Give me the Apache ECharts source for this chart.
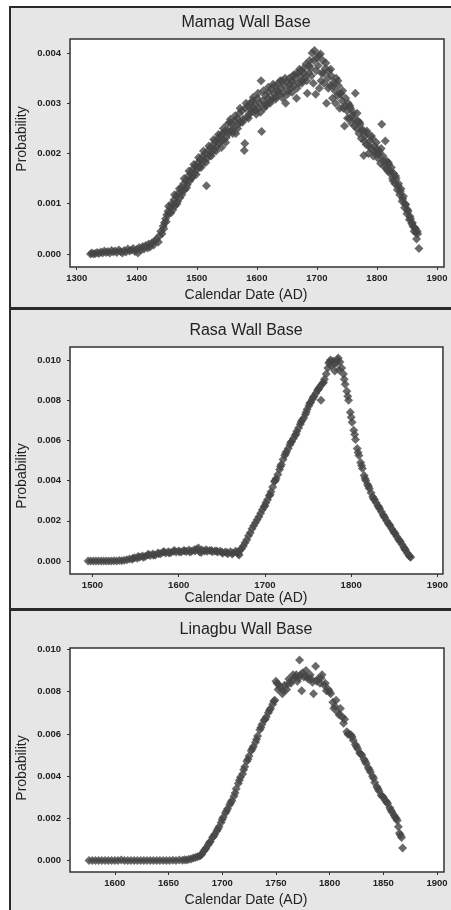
<!DOCTYPE html>
<html><head><meta charset="utf-8">
<script src="https://cdn.jsdelivr.net/npm/echarts@6/dist/echarts.min.js"></script>
<style>html,body{margin:0;padding:0;background:#fff}#c{width:451px;height:910px}</style>
</head><body><div id="c"></div>
<script>
const titles = ["Mamag Wall Base", "Rasa Wall Base", "Linagbu Wall Base"];
const xName = "Calendar Date (AD)";
const yName = "Probability";

const mamagXTicks = [1300, 1400, 1500, 1600, 1700, 1800, 1900];
const mamagYTicks = [0, 0.001, 0.002, 0.003, 0.004];
const rasaXTicks = [1500, 1600, 1700, 1800, 1900];
const rasaYTicks = [0, 0.002, 0.004, 0.006, 0.008, 0.010];
const linagbuXTicks = [1600, 1650, 1700, 1750, 1800, 1850, 1900];
const linagbuYTicks = [0, 0.002, 0.004, 0.006, 0.008, 0.010];

const mamagData = [
[1323,0.00000],[1325,0.00002],[1328,0.00000],[1331,0.00001],[1334,0.00003],[1337,0.00001],[1340,0.00004],[1343,0.00002],[1346,0.00006],[1349,0.00003],
[1352,0.00005],[1355,0.00002],[1358,0.00007],[1361,0.00004],[1364,0.00006],[1367,0.00003],[1370,0.00008],[1373,0.00005],[1376,0.00002],[1379,0.00007],
[1382,0.00004],[1385,0.00010],[1388,0.00006],[1391,0.00008],[1394,0.00011],[1397,0.00005],[1400,0.00009],[1402,0.00002],[1404,0.00013],[1407,0.00008],
[1410,0.00015],[1412,0.00010],[1415,0.00017],[1418,0.00012],[1420,0.00020],[1422,0.00014],[1425,0.00022],[1428,0.00018],[1430,0.00026],[1433,0.00030],
[1436,0.00024],[1438,0.00036],[1440,0.00045],[1442,0.00040],[1444,0.00055],[1446,0.00062],[1448,0.00070],[1450,0.00078],[1452,0.00085],[1454,0.00080],
[1456,0.00092],[1458,0.00100],[1460,0.00088],[1462,0.00108],[1464,0.00096],[1466,0.00115],[1468,0.00105],[1470,0.00122],[1472,0.00112],[1474,0.00132],
[1476,0.00125],[1478,0.00140],[1480,0.00128],[1482,0.00146],[1484,0.00138],[1486,0.00155],[1488,0.00145],[1490,0.00162],[1492,0.00152],[1494,0.00170],
[1496,0.00160],[1498,0.00176],[1500,0.00168],[1502,0.00182],[1504,0.00172],[1506,0.00188],[1508,0.00178],[1510,0.00195],[1512,0.00186],[1514,0.00200],
[1516,0.00136],[1517,0.00190],[1519,0.00206],[1521,0.00196],[1523,0.00212],[1525,0.00202],[1527,0.00218],[1529,0.00208],[1531,0.00225],[1533,0.00214],
[1535,0.00230],[1537,0.00220],[1539,0.00236],[1541,0.00212],[1543,0.00240],[1545,0.00228],[1547,0.00245],[1549,0.00232],[1551,0.00258],[1553,0.00240],
[1555,0.00262],[1557,0.00246],[1559,0.00258],[1561,0.00250],[1563,0.00265],[1565,0.00240],[1567,0.00270],[1569,0.00258],[1571,0.00280],[1573,0.00262],
[1575,0.00285],[1577,0.00268],[1579,0.00206],[1580,0.00220],[1581,0.00290],[1583,0.00272],[1585,0.00295],[1587,0.00278],[1589,0.00300],[1591,0.00282],
[1593,0.00305],[1595,0.00290],[1597,0.00298],[1599,0.00278],[1601,0.00310],[1603,0.00290],[1605,0.00300],[1607,0.00345],[1608,0.00244],[1610,0.00305],
[1612,0.00290],[1614,0.00316],[1616,0.00298],[1618,0.00310],[1620,0.00322],[1622,0.00300],[1624,0.00330],[1626,0.00310],[1628,0.00320],[1630,0.00335],
[1632,0.00312],[1634,0.00326],[1636,0.00340],[1638,0.00318],[1640,0.00330],[1642,0.00345],[1644,0.00320],[1646,0.00335],[1648,0.00300],[1650,0.00342],
[1652,0.00325],[1654,0.00350],[1656,0.00330],[1658,0.00345],[1660,0.00355],[1662,0.00335],[1664,0.00348],[1666,0.00310],[1668,0.00360],[1670,0.00340],
[1672,0.00355],[1674,0.00365],[1676,0.00345],[1678,0.00370],[1680,0.00350],[1682,0.00378],[1684,0.00320],[1686,0.00360],[1688,0.00385],[1690,0.00370],
[1692,0.00400],[1694,0.00340],[1696,0.00405],[1698,0.00318],[1700,0.00390],[1702,0.00375],[1704,0.00330],[1706,0.00398],[1708,0.00360],[1710,0.00385],
[1712,0.00340],[1714,0.00370],[1716,0.00300],[1718,0.00350],[1720,0.00365],[1722,0.00335],[1724,0.00355],[1726,0.00310],[1728,0.00342],[1730,0.00325],
[1732,0.00350],[1734,0.00315],[1736,0.00335],[1738,0.00290],[1740,0.00320],[1742,0.00305],[1744,0.00290],[1746,0.00255],[1748,0.00310],[1750,0.00285],
[1752,0.00300],[1754,0.00270],[1756,0.00290],[1758,0.00260],[1760,0.00282],[1762,0.00268],[1764,0.00320],[1766,0.00250],[1768,0.00265],[1770,0.00240],
[1772,0.00258],[1774,0.00230],[1776,0.00248],[1778,0.00196],[1780,0.00235],[1782,0.00218],[1784,0.00240],[1786,0.00200],[1788,0.00225],[1790,0.00210],
[1792,0.00230],[1794,0.00195],[1796,0.00215],[1798,0.00200],[1800,0.00208],[1802,0.00190],[1804,0.00205],[1806,0.00180],[1808,0.00258],[1810,0.00195],
[1812,0.00175],[1814,0.00225],[1816,0.00185],[1818,0.00165],[1820,0.00178],[1822,0.00160],[1824,0.00172],[1826,0.00150],[1828,0.00160],[1830,0.00140],
[1832,0.00150],[1834,0.00128],[1836,0.00140],[1838,0.00118],[1840,0.00130],[1842,0.00105],[1844,0.00115],[1846,0.00092],[1848,0.00098],[1850,0.00080],
[1852,0.00085],[1854,0.00068],[1856,0.00070],[1858,0.00060],[1860,0.00055],[1862,0.00045],[1864,0.00050],[1866,0.00030],[1868,0.00040],[1870,0.00011]
];
const mamagExtra = [
[1445,0.00050],[1449,0.00064],[1453,0.00095],[1457,0.00082],[1461,0.00098],[1463,0.00118],[1467,0.00100],[1471,0.00130],[1475,0.00118],[1479,0.00150],
[1483,0.00132],[1487,0.00165],[1491,0.00150],[1495,0.00178],[1499,0.00158],[1503,0.00192],[1507,0.00172],[1511,0.00205],[1515,0.00182],[1520,0.00215],
[1524,0.00195],[1528,0.00228],[1532,0.00205],[1536,0.00238],[1540,0.00225],[1544,0.00250],[1548,0.00222],[1552,0.00245],[1556,0.00268],[1560,0.00240],
[1564,0.00275],[1568,0.00250],[1572,0.00290],[1576,0.00262],[1582,0.00300],[1586,0.00270],[1590,0.00288],[1594,0.00312],[1598,0.00285],[1602,0.00320],
[1606,0.00282],[1611,0.00325],[1615,0.00295],[1619,0.00332],[1623,0.00305],[1627,0.00338],[1631,0.00308],[1635,0.00322],[1639,0.00345],[1643,0.00310],
[1647,0.00350],[1651,0.00318],[1655,0.00338],[1659,0.00322],[1663,0.00358],[1667,0.00330],[1671,0.00368],[1675,0.00340],[1679,0.00360],[1683,0.00345],
[1687,0.00375],[1691,0.00355],[1695,0.00385],[1699,0.00365],[1703,0.00395],[1707,0.00345],[1711,0.00360],[1715,0.00380],[1719,0.00330],[1723,0.00368],
[1727,0.00335],[1731,0.00300],[1735,0.00345],[1739,0.00318],[1743,0.00325],[1747,0.00295],[1751,0.00270],[1755,0.00295],[1759,0.00275],[1763,0.00255],
[1767,0.00280],[1771,0.00262],[1775,0.00245],[1779,0.00225],[1783,0.00245],[1787,0.00215],[1791,0.00235],[1795,0.00205],[1799,0.00222],[1803,0.00198],
[1807,0.00210],[1811,0.00185],[1815,0.00170],[1819,0.00182],[1823,0.00165],[1827,0.00145],[1831,0.00155],[1835,0.00135],[1839,0.00125],[1843,0.00110],
[1847,0.00100],[1851,0.00088],[1855,0.00075],[1859,0.00062],[1863,0.00052],[1865,0.00042],[1867,0.00045]
];

const rasaData = [
[1495,0.00000],[1498,0.00000],[1501,0.00000],[1504,0.00000],[1507,0.00000],[1510,0.00000],[1513,0.00000],[1516,0.00000],[1519,0.00000],[1522,0.00000],
[1525,0.00001],[1528,0.00000],[1531,0.00002],[1534,0.00001],[1537,0.00003],[1540,0.00006],[1543,0.00010],[1546,0.00008],[1549,0.00016],[1552,0.00013],
[1555,0.00020],[1558,0.00024],[1561,0.00022],[1564,0.00030],[1567,0.00027],[1570,0.00034],[1573,0.00030],[1576,0.00040],[1579,0.00036],[1582,0.00044],
[1585,0.00040],[1588,0.00046],[1591,0.00042],[1594,0.00048],[1597,0.00044],[1600,0.00050],[1603,0.00045],[1606,0.00052],[1609,0.00047],[1612,0.00054],
[1615,0.00048],[1618,0.00056],[1621,0.00060],[1624,0.00046],[1627,0.00054],[1630,0.00050],[1633,0.00048],[1636,0.00052],[1639,0.00046],[1642,0.00050],
[1645,0.00044],[1648,0.00048],[1651,0.00038],[1654,0.00044],[1657,0.00036],[1660,0.00046],[1663,0.00040],[1666,0.00048],[1669,0.00036],[1671,0.00052],
[1673,0.00062],[1675,0.00075],[1677,0.00090],[1679,0.00105],[1681,0.00125],[1683,0.00140],[1685,0.00160],[1687,0.00175],[1689,0.00190],[1691,0.00205],
[1693,0.00220],[1695,0.00238],[1697,0.00255],[1699,0.00270],[1701,0.00290],[1703,0.00305],[1705,0.00325],[1707,0.00345],[1709,0.00368],[1711,0.00395],
[1713,0.00410],[1715,0.00430],[1717,0.00455],[1719,0.00480],[1721,0.00505],[1723,0.00525],[1725,0.00545],[1727,0.00560],[1729,0.00578],[1731,0.00595],
[1733,0.00610],[1735,0.00625],[1737,0.00645],[1739,0.00662],[1741,0.00680],[1743,0.00700],[1745,0.00712],[1747,0.00730],[1749,0.00755],[1751,0.00772],
[1753,0.00790],[1755,0.00805],[1757,0.00820],[1759,0.00835],[1761,0.00850],[1763,0.00862],[1765,0.00875],[1767,0.00885],[1769,0.00905],[1771,0.00930],
[1773,0.00960],[1775,0.00990],[1777,0.00970],[1779,0.00995],[1781,0.00945],[1783,0.00985],[1785,0.01010],[1787,0.00990],[1789,0.00960],[1791,0.00930],
[1793,0.00880],[1795,0.00845],[1797,0.00800],[1799,0.00740],[1801,0.00690],[1803,0.00650],[1805,0.00605],[1807,0.00560],[1809,0.00525],[1811,0.00490],
[1813,0.00460],[1815,0.00425],[1817,0.00400],[1819,0.00380],[1821,0.00360],[1823,0.00340],[1825,0.00320],[1827,0.00305],[1829,0.00290],[1831,0.00275],
[1833,0.00260],[1835,0.00245],[1837,0.00230],[1839,0.00215],[1841,0.00200],[1843,0.00188],[1845,0.00175],[1847,0.00160],[1849,0.00148],[1851,0.00135],
[1853,0.00120],[1855,0.00108],[1857,0.00095],[1859,0.00082],[1861,0.00068],[1863,0.00055],[1865,0.00040],[1867,0.00028],[1869,0.00018]
];
const rasaExtra = [
[1547,0.00014],[1553,0.00022],[1559,0.00018],[1565,0.00033],[1571,0.00028],[1577,0.00036],[1583,0.00046],[1589,0.00040],[1595,0.00052],[1601,0.00046],
[1607,0.00050],[1613,0.00045],[1619,0.00050],[1623,0.00064],[1626,0.00042],[1632,0.00056],[1638,0.00052],[1644,0.00049],[1650,0.00045],[1656,0.00042],
[1662,0.00034],[1668,0.00045],[1670,0.00030],[1700,0.00275],[1706,0.00330],[1712,0.00400],[1718,0.00470],[1724,0.00535],[1730,0.00590],[1736,0.00632],
[1742,0.00692],[1748,0.00742],[1752,0.00785],[1756,0.00815],[1762,0.00855],[1765,0.00800],[1768,0.00890],[1774,0.00985],[1776,0.01000],[1780,0.00980],
[1784,0.01000],[1786,0.00950],[1792,0.00905],[1796,0.00820],[1800,0.00715],[1804,0.00630],[1808,0.00540],[1812,0.00475],[1816,0.00410],[1820,0.00372],
[1826,0.00310],[1832,0.00268],[1838,0.00222],[1844,0.00182],[1850,0.00140],[1856,0.00100],[1862,0.00060],[1868,0.00022]
];

const linagbuData = [
[1576,0],[1579,0],[1582,0],[1585,0],[1588,0],[1591,0],[1594,0],[1597,0],[1600,0],[1603,0],
[1606,0.00003],[1609,0],[1612,0],[1615,0],[1618,0],[1621,0],[1624,0],[1627,0],[1630,0],[1633,0],
[1636,0],[1639,0],[1642,0],[1645,0],[1648,0],[1651,0.00001],[1654,0.00002],[1657,0.00001],[1660,0.00003],[1663,0.00002],
[1665,0.00004],[1667,0.00003],[1669,0.00006],[1671,0.00008],[1673,0.00012],[1675,0.00015],[1677,0.00018],[1679,0.00022],[1681,0.00030],[1683,0.00045],
[1685,0.00060],[1687,0.00075],[1689,0.00090],[1691,0.00110],[1693,0.00125],[1695,0.00140],[1697,0.00160],[1699,0.00180],[1701,0.00205],[1703,0.00225],
[1705,0.00245],[1707,0.00265],[1709,0.00285],[1711,0.00305],[1713,0.00340],[1715,0.00365],[1717,0.00395],[1719,0.00410],[1721,0.00445],[1723,0.00470],
[1725,0.00495],[1727,0.00520],[1729,0.00540],[1731,0.00560],[1733,0.00590],[1735,0.00620],[1737,0.00645],[1739,0.00665],[1741,0.00680],[1743,0.00700],
[1745,0.00720],[1747,0.00740],[1749,0.00760],[1751,0.00840],[1752,0.00810],[1754,0.00820],[1756,0.00790],[1758,0.00830],[1760,0.00810],[1762,0.00860],
[1764,0.00840],[1766,0.00880],[1768,0.00870],[1770,0.00850],[1772,0.00950],[1773,0.00880],[1774,0.00805],[1776,0.00870],[1778,0.00900],[1780,0.00860],
[1782,0.00880],[1784,0.00845],[1785,0.00790],[1787,0.00920],[1789,0.00860],[1791,0.00840],[1793,0.00880],[1795,0.00830],[1797,0.00805],[1799,0.00810],
[1801,0.00790],[1803,0.00750],[1805,0.00730],[1806,0.00760],[1808,0.00700],[1810,0.00720],[1812,0.00680],[1814,0.00670],[1816,0.00610],[1818,0.00600],
[1820,0.00595],[1822,0.00570],[1824,0.00550],[1826,0.00530],[1828,0.00510],[1830,0.00500],[1832,0.00480],[1834,0.00460],[1836,0.00440],[1838,0.00420],
[1840,0.00400],[1842,0.00370],[1844,0.00350],[1846,0.00330],[1848,0.00310],[1850,0.00300],[1852,0.00285],[1854,0.00270],[1856,0.00250],[1858,0.00230],
[1860,0.00215],[1862,0.00200],[1864,0.00160],[1865,0.00130],[1867,0.00110],[1868,0.00060]
];
const linagbuExtra = [
[1680,0.00025],[1684,0.00052],[1688,0.00085],[1692,0.00115],[1696,0.00150],[1700,0.00195],[1704,0.00235],[1708,0.00275],[1712,0.00320],[1716,0.00380],
[1720,0.00430],[1724,0.00480],[1728,0.00530],[1732,0.00575],[1736,0.00630],[1740,0.00670],[1744,0.00712],[1748,0.00755],[1750,0.00850],[1753,0.00830],
[1757,0.00805],[1761,0.00835],[1765,0.00855],[1769,0.00880],[1771,0.00865],[1775,0.00890],[1779,0.00870],[1783,0.00860],[1788,0.00850],[1792,0.00865],
[1796,0.00840],[1800,0.00800],[1804,0.00720],[1809,0.00690],[1813,0.00650],[1817,0.00598],[1821,0.00585],[1825,0.00540],[1829,0.00505],[1833,0.00470],
[1837,0.00430],[1841,0.00390],[1845,0.00340],[1849,0.00305],[1853,0.00278],[1857,0.00240],[1861,0.00205],[1863,0.00190],[1866,0.00120]
];

const chart = echarts.init(document.getElementById('c'), null, {renderer: 'canvas'});

const grids = [
  {left: 70, top: 39, width: 374, height: 228},
  {left: 70, top: 347, width: 374, height: 227},
  {left: 70, top: 648, width: 374, height: 224}
];
const xRanges = [[1288.8, 1911.7], [1474, 1906.4], [1558.3, 1906.5]];
const yRanges = [[-0.00026, 0.00428], [-0.00065, 0.01065], [-0.00054, 0.01007]];
const xTicks = [mamagXTicks, rasaXTicks, linagbuXTicks];
const yTicks = [mamagYTicks, rasaYTicks, linagbuYTicks];
const datas = [mamagData.concat(mamagExtra), rasaData.concat(rasaExtra), linagbuData.concat(linagbuExtra)];

const labelStyle = {fontFamily: 'Liberation Sans', fontWeight: 'bold', fontSize: 9.5, color: '#222'};

const option = {
  backgroundColor: '#fff',
  animation: false,
  grid: grids.map(g => Object.assign({show: true, backgroundColor: '#fff', borderColor: '#333', borderWidth: 1.5}, g)),
  xAxis: xRanges.map((r, i) => ({
    type: 'value', gridIndex: i, min: r[0], max: r[1],
    axisLine: {show: false, onZero: false},
    splitLine: {show: false},
    axisTick: {show: true, length: 3, lineStyle: {color: '#333'}, customValues: xTicks[i]},
    axisLabel: Object.assign({margin: 6, customValues: xTicks[i], formatter: v => String(Math.round(v))}, labelStyle)
  })),
  yAxis: yRanges.map((r, i) => ({
    type: 'value', gridIndex: i, min: r[0], max: r[1],
    axisLine: {show: false, onZero: false},
    splitLine: {show: false},
    axisTick: {show: true, length: 3, lineStyle: {color: '#333'}, customValues: yTicks[i]},
    axisLabel: Object.assign({margin: 9, customValues: yTicks[i], formatter: v => v.toFixed(3)}, labelStyle)
  })),
  series: datas.map((d, i) => ({
    type: 'scatter', xAxisIndex: i, yAxisIndex: i, data: d,
    symbol: 'diamond', symbolSize: 9,
    itemStyle: {color: '#454545'}
  })),
  graphic: [
    {type: 'rect', z: -10, silent: true, shape: {x: 10, y: 7, width: 460, height: 301}, style: {fill: '#e6e6e6', stroke: '#2a2a2a', lineWidth: 2}},
    {type: 'rect', z: -10, silent: true, shape: {x: 10, y: 309, width: 460, height: 300}, style: {fill: '#e6e6e6', stroke: '#2a2a2a', lineWidth: 2}},
    {type: 'rect', z: -10, silent: true, shape: {x: 10, y: 610, width: 460, height: 320}, style: {fill: '#e6e6e6', stroke: '#2a2a2a', lineWidth: 2}},
    {type: 'text', z: 50, style: {text: titles[0], x: 246, y: 23, textAlign: 'center', textVerticalAlign: 'middle', font: '16px "Liberation Sans"', fill: '#222'}},
    {type: 'text', z: 50, style: {text: titles[1], x: 246, y: 331, textAlign: 'center', textVerticalAlign: 'middle', font: '16px "Liberation Sans"', fill: '#222'}},
    {type: 'text', z: 50, style: {text: titles[2], x: 246, y: 630, textAlign: 'center', textVerticalAlign: 'middle', font: '16px "Liberation Sans"', fill: '#222'}},
    {type: 'text', z: 50, style: {text: xName, x: 246, y: 295, textAlign: 'center', textVerticalAlign: 'middle', font: '14px "Liberation Sans"', fill: '#222'}},
    {type: 'text', z: 50, style: {text: xName, x: 246, y: 598, textAlign: 'center', textVerticalAlign: 'middle', font: '14px "Liberation Sans"', fill: '#222'}},
    {type: 'text', z: 50, style: {text: xName, x: 246, y: 900, textAlign: 'center', textVerticalAlign: 'middle', font: '14px "Liberation Sans"', fill: '#222'}},
    {type: 'text', z: 50, x: 22, y: 139, rotation: Math.PI / 2, style: {text: yName, x: 0, y: 0, textAlign: 'center', textVerticalAlign: 'middle', font: '14px "Liberation Sans"', fill: '#222'}},
    {type: 'text', z: 50, x: 22, y: 476, rotation: Math.PI / 2, style: {text: yName, x: 0, y: 0, textAlign: 'center', textVerticalAlign: 'middle', font: '14px "Liberation Sans"', fill: '#222'}},
    {type: 'text', z: 50, x: 22, y: 768, rotation: Math.PI / 2, style: {text: yName, x: 0, y: 0, textAlign: 'center', textVerticalAlign: 'middle', font: '14px "Liberation Sans"', fill: '#222'}}
  ]
};
chart.setOption(option);
</script>
</body></html>
